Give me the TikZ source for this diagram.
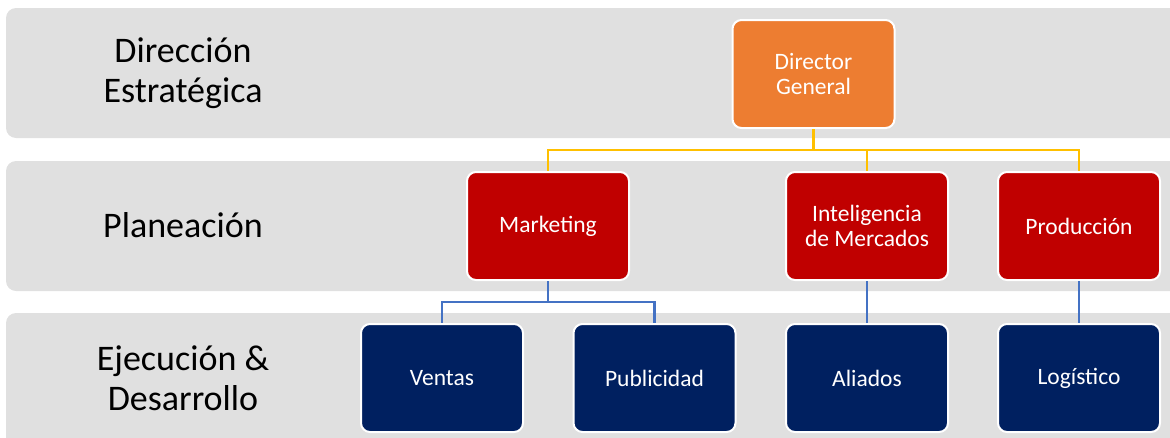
\documentclass[tikz,border=0pt]{standalone}
\usepackage{fontspec}
\setmainfont{Carlito}
\definecolor{band}{HTML}{E0E0E0}
\definecolor{orangebox}{HTML}{ED7D31}
\definecolor{redbox}{HTML}{C00000}
\definecolor{navybox}{HTML}{002060}
\definecolor{yline}{HTML}{FFC000}
\definecolor{bline}{HTML}{4472C4}
\tikzset{
  bandbox/.style={fill=band, draw=none, rounded corners=10pt},
  bandlabel/.style={align=center, font=\fontsize{36}{40}\selectfont, text=black},
  orgbox/.style={rounded corners=9pt, draw=white, line width=2pt, minimum width=162pt, minimum height=108pt, inner sep=0pt, align=center, text=white, font=\fontsize{23.5}{25.5}\selectfont},
  topbox/.style={orgbox, fill=orangebox},
  midbox/.style={orgbox, fill=redbox},
  lowbox/.style={orgbox, fill=navybox},
  yconn/.style={draw=yline, line width=2.5pt},
  bconn/.style={draw=bline, line width=2.5pt},
}
\begin{document}
\begin{tikzpicture}[x=1pt, y=-1pt]
\useasboundingbox (0,0) rectangle (1170,437);
\clip (0,0) rectangle (1170,437);
% bands
\fill[bandbox] (6,8) rectangle (1200,138);
\fill[bandbox] (6,161) rectangle (1200,291);
\fill[bandbox] (6,313) rectangle (1200,460);
% band labels
\node[bandlabel] (l1) at (183,73) {Dirección\\Estratégica};
\node[bandlabel] (l2) at (183,225) {Planeación};
\node[bandlabel] (l3) at (183,378) {Ejecución \&\\Desarrollo};
% boxes
\node[topbox] (dg) at (813.5,74) {Director\\General};
\node[midbox] (mk) at (548,226) {Marketing};
\node[midbox] (im) at (867,226) {Inteligencia\\de Mercados};
\node[midbox] (pr) at (1079,226) {Producción};
\node[lowbox] (ve) at (442,378) {Ventas};
\node[lowbox] (pu) at (654.5,378) {Publicidad};
\node[lowbox] (al) at (867,378) {Aliados};
\node[lowbox] (lo) at (1079,378) {Logístico};
% bus coordinates
\coordinate (ybus) at (0,150);
\coordinate (bbus) at (0,302);
% connectors
\draw[yconn] (dg.south) -- (dg.south |- ybus) -| (mk.north);
\draw[yconn] (dg.south |- ybus) -| (im.north);
\draw[yconn] (dg.south |- ybus) -| (pr.north);
\draw[bconn] (mk.south) -- (mk.south |- bbus) -| (ve.north);
\draw[bconn] (mk.south |- bbus) -| (pu.north);
\draw[bconn] (im.south) -- (al.north);
\draw[bconn] (pr.south) -- (lo.north);
\end{tikzpicture}
\end{document}
